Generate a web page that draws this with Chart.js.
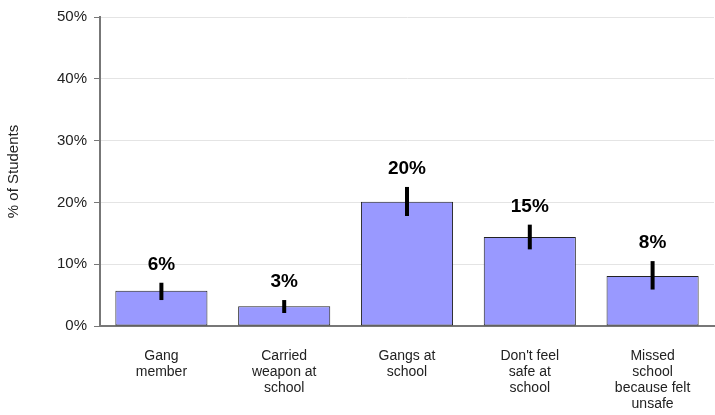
<!DOCTYPE html>
<html>
<head>
<meta charset="utf-8">
<script src="https://cdn.jsdelivr.net/npm/chart.js@4.4.0/dist/chart.umd.min.js"></script>
<style>
  html, body { margin: 0; padding: 0; background: #fff; }
  #wrap { width: 715px; height: 415px; }
</style>
</head>
<body>
<div id="wrap"><canvas id="chart" width="715" height="415"></canvas></div>
<script>
// categories and values
const categories = [
    ['Gang', 'member'],
    ['Carried', 'weapon at', 'school'],
    ['Gangs at', 'school'],
    ["Don't feel", 'safe at', 'school'],
    ['Missed', 'school', 'because felt', 'unsafe']
];
const values = [5.7, 3.2, 20.1, 14.4, 8.1];
const errLow = [4.2, 2.1, 17.8, 12.4, 5.9];
const errHigh = [7.0, 4.2, 22.5, 16.4, 10.5];
const valueLabels = ['6%', '3%', '20%', '15%', '8%'];
const yTicks = [0, 10, 20, 30, 40, 50];

const FONT = 'Arial, "Liberation Sans", sans-serif';

// draws the black error bars and the bold labels above them
const errorBarPlugin = {
    id: 'errorBars',
    afterDatasetsDraw(chart) {
        const ctx = chart.ctx;
        const y = chart.scales.y;
        const meta = chart.getDatasetMeta(0);
        ctx.save();
        meta.data.forEach((bar, i) => {
            const top = y.getPixelForValue(errHigh[i]);
            const bottom = y.getPixelForValue(errLow[i]);
            ctx.strokeStyle = '#000';
            ctx.lineWidth = 4;
            ctx.beginPath();
            ctx.moveTo(bar.x, top);
            ctx.lineTo(bar.x, bottom);
            ctx.stroke();

            ctx.fillStyle = '#000';
            ctx.font = 'bold 19px ' + FONT;
            ctx.textAlign = 'center';
            ctx.textBaseline = 'middle';
            ctx.fillText(valueLabels[i], bar.x, top - 18);
        });
        ctx.restore();
    }
};

new Chart(document.getElementById('chart'), {
    type: 'bar',
    data: {
        labels: categories,
        datasets: [{
            data: values,
            backgroundColor: '#9999ff',
            borderColor: '#222',
            borderWidth: 1,
            borderSkipped: false,
            barPercentage: 0.75,
            categoryPercentage: 1.0
        }]
    },
    options: {
        responsive: false,
        animation: false,
        devicePixelRatio: 1,
        layout: { padding: { top: 17, right: 1, left: 0, bottom: 0 } },
        plugins: {
            legend: { display: false },
            tooltip: { enabled: false }
        },
        scales: {
            x: {
                grid: { display: false, drawTicks: false },
                border: { display: true, color: '#777', width: 2 },
                ticks: {
                    color: '#222',
                    padding: 22,
                    maxRotation: 0,
                    autoSkip: false,
                    font: { family: FONT, size: 14, lineHeight: 1.15 }
                },
                afterFit(scale) { scale.height = 89; }
            },
            y: {
                min: 0,
                max: 50,
                afterBuildTicks(scale) { scale.ticks = yTicks.map(v => ({ value: v })); },
                grid: { color: '#e4e4e4', lineWidth: 1, tickLength: 6, tickColor: '#777' },
                border: { display: true, color: '#777', width: 2 },
                ticks: {
                    color: '#222',
                    padding: 7,
                    font: { family: FONT, size: 15 },
                    callback: v => v + '%'
                },
                title: {
                    display: true,
                    text: '% of Students',
                    color: '#222',
                    font: { family: FONT, size: 15 },
                    padding: { top: 5, bottom: 0 }
                },
                afterFit(scale) { scale.width = 100; }
            }
        }
    },
    plugins: [errorBarPlugin]
});
</script>
</body>
</html>
